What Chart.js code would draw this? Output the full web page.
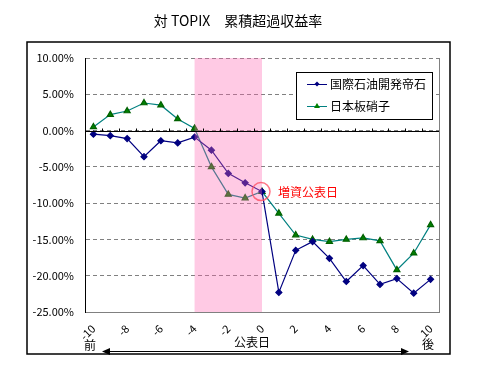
<!DOCTYPE html>
<html>
<head>
<meta charset="utf-8">
<script src="https://cdn.jsdelivr.net/npm/chart.js@4/dist/chart.umd.min.js"></script>
<style>
  body { margin: 0; background: #fff; }
  #wrap { width: 479px; height: 376px; }
</style>
</head>
<body>
<div id="wrap"><canvas id="myChart" width="479" height="376"></canvas></div>
<script>
// datos (en %)
const dias = ['-10', '-9', '-8', '-7', '-6', '-5', '-4', '-3', '-2', '-1', '0', '1', '2', '3', '4', '5', '6', '7', '8', '9', '10'];
const inpex = [-0.5, -0.7, -1.1, -3.6, -1.4, -1.7, -0.9, -2.7, -5.9, -7.2, -8.4, -22.3, -16.5, -15.3, -17.6, -20.8, -18.6, -21.2, -20.4, -22.4, -20.5];
const nsg = [0.5, 2.2, 2.7, 3.8, 3.5, 1.6, 0.3, -5.0, -8.8, -9.3, -8.4, -11.4, -14.4, -15.0, -15.3, -15.0, -14.8, -15.2, -19.2, -16.9, -13.0];
const nombres = ['国際石油開発帝石', '日本板硝子'];
const titulo = '対 TOPIX　累積超過収益率';
const yTicks = [10, 5, 0, -5, -10, -15, -20, -25];

const fuente = "'Noto Sans CJK JP', 'Liberation Sans', sans-serif";

const extras = {
  id: 'extras',
  afterDatasetsDraw(chart) {
    const ctx = chart.ctx;
    const a = chart.chartArea;
    const x = chart.scales.x;
    const y = chart.scales.y;

    // zona sombreada (-4 .. 0)
    ctx.save();
    ctx.fillStyle = 'rgba(255, 102, 178, 0.35)';
    const x1 = x.getPixelForValue(6);
    const x2 = x.getPixelForValue(10);
    ctx.fillRect(x1, a.top, x2 - x1, a.bottom - a.top);

    // linea del cero y marcas
    const y0 = Math.round(y.getPixelForValue(0)) + 0.5;
    ctx.strokeStyle = '#000';
    ctx.lineWidth = 1;
    ctx.beginPath();
    ctx.moveTo(a.left, y0);
    ctx.lineTo(a.right, y0);
    const paso = (a.right - a.left) / dias.length;
    for (let i = 0; i <= dias.length; i++) {
      const px = Math.round(a.left + i * paso) + 0.5;
      ctx.moveTo(px, y0);
      ctx.lineTo(px, y0 - 3);
    }
    ctx.stroke();

    // borde derecho
    ctx.strokeStyle = '#808080';
    ctx.beginPath();
    ctx.moveTo(a.right + 0.5, a.top);
    ctx.lineTo(a.right + 0.5, a.bottom);
    ctx.stroke();
    ctx.restore();
  },
  afterDraw(chart) {
    const ctx = chart.ctx;
    const x = chart.scales.x;
    const y = chart.scales.y;
    ctx.save();

    // marco exterior
    ctx.strokeStyle = '#000';
    ctx.lineWidth = 1.5;
    ctx.strokeRect(27, 42, 423, 312);

    // titulo
    ctx.fillStyle = '#000';
    ctx.font = '14px ' + fuente;
    ctx.textAlign = 'center';
    ctx.textBaseline = 'middle';
    ctx.fillText(titulo, 238, 21);

    // leyenda
    ctx.lineWidth = 1;
    ctx.fillStyle = '#fff';
    ctx.fillRect(296, 72, 136, 47);
    ctx.strokeStyle = '#000';
    ctx.strokeRect(296.5, 72.5, 136, 47);
    const filas = [84, 106];
    chart.data.datasets.forEach(function (ds, i) {
      const ly = filas[i];
      ctx.strokeStyle = ds.borderColor;
      ctx.beginPath();
      ctx.moveTo(307, ly + 0.5);
      ctx.lineTo(327, ly + 0.5);
      ctx.stroke();
      ctx.fillStyle = ds.pointBackgroundColor;
      ctx.beginPath();
      if (i === 0) {
        ctx.moveTo(317, ly - 2.5);
        ctx.lineTo(319.5, ly);
        ctx.lineTo(317, ly + 2.5);
        ctx.lineTo(314.5, ly);
      } else {
        ctx.moveTo(317, ly - 3);
        ctx.lineTo(320, ly + 2);
        ctx.lineTo(314, ly + 2);
      }
      ctx.closePath();
      ctx.fill();
      ctx.fillStyle = '#000';
      ctx.font = '12px ' + fuente;
      ctx.textAlign = 'left';
      ctx.fillText(ds.label, 330, ly);
    });

    // circulo del dia de anuncio
    const cx = x.getPixelForValue(10);
    const cy = y.getPixelForValue(-8.4);
    ctx.strokeStyle = 'rgba(255, 80, 100, 0.8)';
    ctx.lineWidth = 1.5;
    ctx.beginPath();
    ctx.arc(cx - 1, cy, 9, 0, Math.PI * 2);
    ctx.stroke();
    ctx.fillStyle = '#ff0000';
    ctx.font = '12px ' + fuente;
    ctx.textAlign = 'left';
    ctx.fillText('増資公表日', 278, 192);

    // textos de abajo
    ctx.fillStyle = '#000';
    ctx.font = '12px ' + fuente;
    ctx.textAlign = 'center';
    ctx.fillText('前', 90, 345);
    ctx.fillText('公表日', 252, 342);
    ctx.fillText('後', 428, 344);

    // flecha doble
    ctx.strokeStyle = '#000';
    ctx.lineWidth = 1;
    ctx.beginPath();
    ctx.moveTo(106, 351.5);
    ctx.lineTo(405, 351.5);
    ctx.stroke();
    ctx.beginPath();
    ctx.moveTo(102, 351.5);
    ctx.lineTo(110, 348);
    ctx.lineTo(110, 355);
    ctx.closePath();
    ctx.moveTo(409, 351.5);
    ctx.lineTo(401, 348);
    ctx.lineTo(401, 355);
    ctx.closePath();
    ctx.fill();
    ctx.restore();
  }
};

const ctx = document.getElementById('myChart').getContext('2d');
const myChart = new Chart(ctx, {
  type: 'line',
  data: {
    labels: dias,
    datasets: [{
      label: nombres[0],
      data: inpex,
      borderColor: '#000080',
      backgroundColor: '#000080',
      pointBackgroundColor: '#000080',
      pointBorderColor: '#000080',
      pointStyle: 'rectRot',
      pointRadius: 3,
      borderWidth: 1.2,
      tension: 0
    }, {
      label: nombres[1],
      data: nsg,
      borderColor: '#008080',
      backgroundColor: '#008000',
      pointBackgroundColor: '#008000',
      pointBorderColor: '#006000',
      pointStyle: 'triangle',
      pointRadius: 3.5,
      borderWidth: 1.2,
      tension: 0
    }]
  },
  options: {
    responsive: false,
    animation: false,
    layout: { padding: { left: 0, right: 40, top: 58, bottom: 0 } },
    plugins: {
      legend: { display: false },
      title: { display: false },
      tooltip: { enabled: false }
    },
    scales: {
      x: {
        offset: true,
        grid: { display: false, offset: true },
        border: { color: '#808080' },
        afterFit: function (s) { s.height = 64; },
        ticks: {
          autoSkip: false,
          minRotation: 45,
          maxRotation: 45,
          padding: 2,
          color: '#000',
          font: { family: fuente, size: 11 },
          callback: function (v, i) {
            const t = dias[i];
            return Number(t) % 2 === 0 ? t : '';
          }
        }
      },
      y: {
        min: -25,
        max: 10,
        afterFit: function (s) { s.width = 85; },
        afterBuildTicks: function (s) {
          s.ticks = yTicks.map(function (v) { return { value: v }; });
        },
        grid: { color: '#808080', drawTicks: false },
        border: { color: '#000', dash: [4, 3] },
        ticks: {
          padding: 11,
          color: '#000',
          font: { family: fuente, size: 11 },
          callback: function (v) { return v.toFixed(2) + '%'; }
        }
      }
    }
  },
  plugins: [extras]
});
</script>
</body>
</html>
